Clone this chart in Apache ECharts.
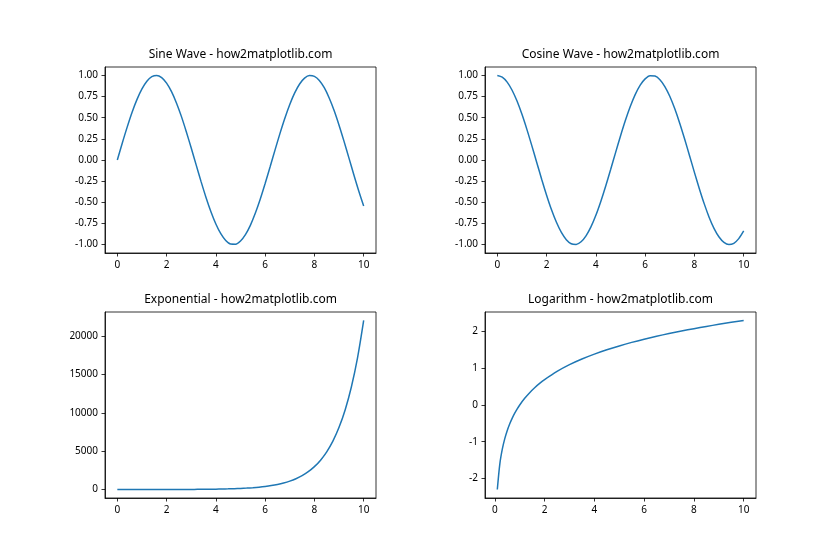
<!DOCTYPE html>
<html><head><meta charset="utf-8">
<script src="https://cdn.jsdelivr.net/npm/echarts@6/dist/echarts.min.js"></script>
<style>html,body{margin:0;padding:0;background:#fff}#c{width:840px;height:560px}</style>
</head><body><div id="c"></div>
<script>
// ---- data ----
const waveX = [0,0.2,0.4,0.6,0.8,1.0,1.2,1.4,1.6,1.8,2.0,2.2,2.4,2.6,2.8,3.0,3.2,3.4,3.6,3.8,4.0,4.2,4.4,4.6,4.8,5.0,5.2,5.4,5.6,5.8,6.0,6.2,6.4,6.6,6.8,7.0,7.2,7.4,7.6,7.8,8.0,8.2,8.4,8.6,8.8,9.0,9.2,9.4,9.6,9.8,10.0];
const sineY = [0,0.199,0.389,0.565,0.717,0.841,0.932,0.985,1.000,0.974,0.909,0.808,0.675,0.516,0.335,0.141,-0.058,-0.256,-0.443,-0.612,-0.757,-0.872,-0.952,-0.994,-0.996,-0.959,-0.883,-0.773,-0.631,-0.465,-0.279,-0.083,0.117,0.312,0.494,0.657,0.794,0.899,0.968,0.999,0.989,0.941,0.855,0.734,0.585,0.412,0.223,0.025,-0.174,-0.366,-0.544];
const cosineY = [1.000,0.980,0.921,0.825,0.697,0.540,0.362,0.170,-0.029,-0.227,-0.416,-0.589,-0.737,-0.857,-0.942,-0.990,-0.998,-0.967,-0.897,-0.791,-0.654,-0.490,-0.307,-0.112,0.087,0.284,0.469,0.635,0.776,0.886,0.960,0.997,0.993,0.950,0.869,0.754,0.608,0.438,0.251,0.054,-0.146,-0.339,-0.519,-0.679,-0.811,-0.911,-0.975,-1.000,-0.985,-0.930,-0.839];
const expX = [0,0.25,0.5,0.75,1,1.25,1.5,1.75,2,2.25,2.5,2.75,3,3.25,3.5,3.75,4,4.25,4.5,4.75,5,5.25,5.5,5.75,6,6.25,6.5,6.75,7,7.25,7.5,7.75,8,8.25,8.5,8.75,9,9.25,9.5,9.75,10];
const expY = [1,1.28,1.65,2.12,2.72,3.49,4.48,5.75,7.39,9.49,12.18,15.64,20.09,25.79,33.12,42.52,54.6,70.1,90.0,115.6,148.4,190.6,244.7,314.2,403.4,518.0,665.1,854.1,1096.6,1408.1,1808.0,2321.6,2981.0,3827.6,4914.8,6310.7,8103.1,10404.6,13359.7,17154.2,22026.5];
const logX = [0.1,0.2,0.3,0.4,0.5,0.6,0.7,0.8,0.9,1.0,1.2,1.4,1.6,1.8,2.0,2.5,3,3.5,4,4.5,5,5.5,6,6.5,7,7.5,8,8.5,9,9.5,10];
const logY = [-2.303,-1.609,-1.204,-0.916,-0.693,-0.511,-0.357,-0.223,-0.105,0,0.182,0.336,0.470,0.588,0.693,0.916,1.099,1.253,1.386,1.504,1.609,1.705,1.792,1.872,1.946,2.015,2.079,2.140,2.197,2.251,2.303];
const titles = ['Sine Wave - how2matplotlib.com','Cosine Wave - how2matplotlib.com','Exponential - how2matplotlib.com','Logarithm - how2matplotlib.com'];
const xTicks = [0,2,4,6,8,10];
const waveTicks = [-1,-0.75,-0.5,-0.25,0,0.25,0.5,0.75,1];
const expTicks = [0,5000,10000,15000,20000];
const logTicks = [-2,-1,0,1,2];

const FONT = 'Noto Sans';
const pair = (xs, ys) => xs.map((x, i) => [x, ys[i]]);
const grids = [
  {left:105, top:67, width:271, height:186},
  {left:485, top:67, width:271, height:186},
  {left:105, top:312, width:271, height:186},
  {left:485, top:312, width:271, height:186}
];
const xr = [[-0.5,10.5],[-0.5,10.5],[-0.5,10.5],[-0.395,10.495]];
const yr = [[-1.1,1.1],[-1.1,1.1],[-1100.3,23127.8],[-2.533,2.533]];
const yt = [waveTicks, waveTicks, expTicks, logTicks];
const yfmt = [v=>v.toFixed(2), v=>v.toFixed(2), v=>String(v), v=>String(v)];
const datas = [pair(waveX,sineY), pair(waveX,cosineY), pair(expX,expY), pair(logX,logY)];

const axisCommon = {
  axisLine:{show:true, onZero:false, lineStyle:{color:'#000', width:0.8}},
  axisTick:{show:true, length:3.5, lineStyle:{color:'#000', width:0.8}},
  splitLine:{show:false}
};
const option = {
  animation:false,
  backgroundColor:'#fff',
  title: grids.map((g,i)=>({
    text: titles[i], left: g.left + g.width/2, top: g.top - 18, textAlign:'center', padding:0,
    textStyle:{fontFamily:FONT, fontSize:12, fontWeight:'normal', color:'#000'}
  })),
  grid: grids.map(g=>Object.assign({show:true, borderColor:'#000', borderWidth:0.8, backgroundColor:'transparent', containLabel:false}, g)),
  xAxis: grids.map((g,i)=>Object.assign({}, axisCommon, {
    type:'value', gridIndex:i, min:xr[i][0], max:xr[i][1],
    axisTick:Object.assign({}, axisCommon.axisTick, {customValues:xTicks}),
    axisLabel:{customValues:xTicks, margin:7, color:'#000', fontFamily:FONT, fontSize:10, formatter:v=>String(v)}
  })),
  yAxis: grids.map((g,i)=>Object.assign({}, axisCommon, {
    type:'value', gridIndex:i, min:yr[i][0], max:yr[i][1],
    axisTick:Object.assign({}, axisCommon.axisTick, {customValues:yt[i]}),
    axisLabel:{customValues:yt[i], margin:7, color:'#000', fontFamily:FONT, fontSize:10, formatter:yfmt[i]}
  })),
  series: datas.map((d,i)=>({
    type:'line', xAxisIndex:i, yAxisIndex:i, data:d, showSymbol:false, smooth:0.3,
    lineStyle:{color:'#1f77b4', width:1.5}, itemStyle:{color:'#1f77b4'}, clip:true
  }))
};
const chart = echarts.init(document.getElementById('c'), null, {renderer:'canvas'});
chart.setOption(option);
</script></body></html>
